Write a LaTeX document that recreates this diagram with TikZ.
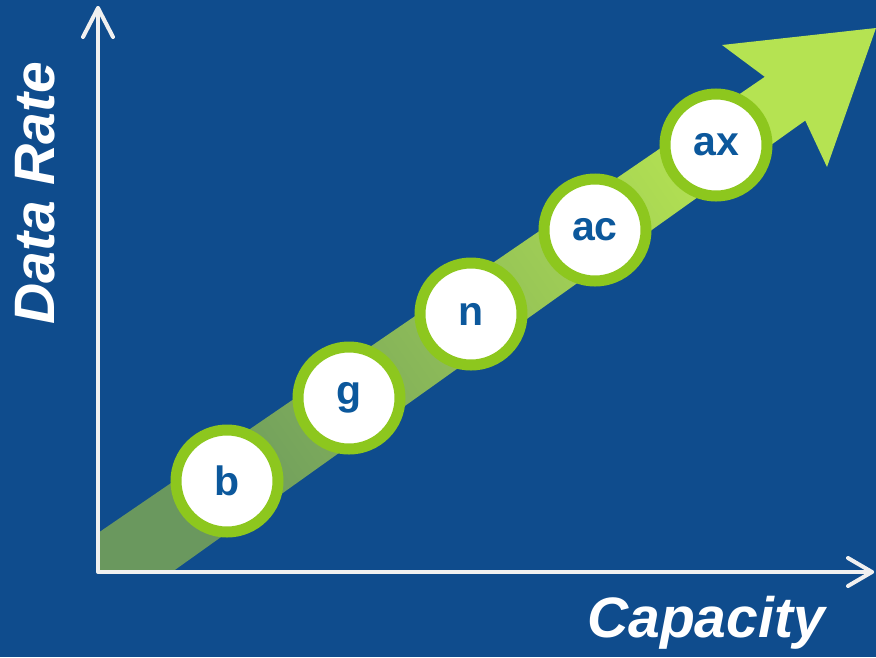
\documentclass[tikz,border=0pt]{standalone}
\usepackage{fontspec}
\setmainfont{Liberation Sans}
\usetikzlibrary{calc}
\definecolor{bgblue}{HTML}{0F4C8D}
\definecolor{ringgreen}{HTML}{8DC71E}
\definecolor{lime}{HTML}{B5E352}
\definecolor{bandlow}{HTML}{6A985E}
\definecolor{bandmid}{HTML}{98C65A}
\definecolor{labelblue}{HTML}{0C589C}
\definecolor{axiswhite}{HTML}{F0F0F0}
\tikzset{
  stage/.style={circle, draw=ringgreen, line width=11pt, fill=white,
    minimum size=102pt, inner sep=0pt, text=labelblue,
    font=\fontsize{41}{41}\selectfont\bfseries},
  axisline/.style={draw=axiswhite, line width=4pt, line cap=round, line join=round},
  axislabel/.style={text=white, inner sep=0pt,
    font=\fontsize{57}{57}\selectfont\bfseries\itshape},
}
\begin{document}
\begin{tikzpicture}[x=1pt, y=-1pt]
\fill[bgblue] (0,0) rectangle (876,657);
\useasboundingbox (0,0) rectangle (876,657);
% growth band
\shade[bottom color=bandlow, middle color=bandmid, top color=lime, shading angle=-55]
  (98,533) -- (766,76) -- (806,120) -- (172,572) -- (98,572) -- cycle;
\fill[lime] (765,77) -- (722,45) -- (876,28) -- (827,167) -- (805,120) -- cycle;
% axes
\coordinate (origin) at (98,572);
\coordinate (ytop) at (98,8);
\coordinate (xtip) at (872,572);
\draw[axisline] (ytop) -- (origin) -- (xtip);
\draw[axisline] ($(ytop)+(-15,29)$) -- (ytop) -- ($(ytop)+(15,29)$);
\draw[axisline] ($(xtip)+(-24,-14)$) -- (xtip) -- ($(xtip)+(-24,14)$);
% stages
\node[stage] (b) at (227,481) {b};
\node[stage] (g) at (349,398) {g};
\node[stage] (n) at (471,314) {n};
\node[stage] (ac) at (595,230) {ac};
\node[stage] (ax) at (716,145) {ax};
% labels
\node[axislabel, rotate=90] (ylabel) at (35,193) {Data Rate};
\node[axislabel, anchor=base] (xlabel) at (706,637) {Capacity};
\end{tikzpicture}
\end{document}
